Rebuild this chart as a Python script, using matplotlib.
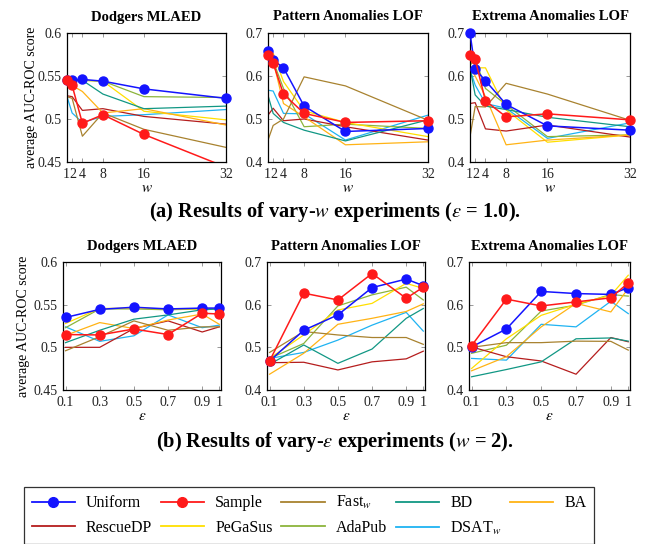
import matplotlib
matplotlib.use('Agg')
import matplotlib.pyplot as plt
from matplotlib.lines import Line2D
from matplotlib.ticker import FuncFormatter
from matplotlib.transforms import ScaledTranslation

plt.rcParams['font.family'] = ['Liberation Serif', 'DejaVu Serif']
plt.rcParams['mathtext.fontset'] = 'stix'

# ── data ──────────────────────────────────────────────────────────────────
W_VALUES = [1, 2, 4, 8, 16, 32]
EPS_VALUES = [0.1, 0.3, 0.5, 0.7, 0.9, 1.0]

METHODS = ['Uniform', 'Sample', 'Fast$_w$', 'BD', 'BA',
           'RescueDP', 'PeGaSus', 'AdaPub', 'DSAT$_w$']

dodgers_w = {
    'Uniform':  [0.545, 0.545, 0.546, 0.544, 0.535, 0.524],
    'Sample':   [0.545, 0.539, 0.495, 0.505, 0.482, 0.444],
    'Fast$_w$': [0.526, 0.524, 0.480, 0.507, 0.488, 0.467],
    'BD':       [0.545, 0.545, 0.545, 0.529, 0.512, 0.515],
    'BA':       [0.543, 0.539, 0.532, 0.507, 0.512, 0.493],
    'RescueDP': [0.527, 0.526, 0.510, 0.512, 0.503, 0.494],
    'PeGaSus':  [0.545, 0.545, 0.545, 0.544, 0.509, 0.499],
    'AdaPub':   [0.545, 0.545, 0.545, 0.544, 0.526, 0.525],
    'DSAT$_w$': [0.526, 0.507, 0.496, 0.503, 0.505, 0.511],
}
pattern_w = {
    'Uniform':  [0.658, 0.637, 0.619, 0.530, 0.471, 0.478],
    'Sample':   [0.650, 0.630, 0.558, 0.513, 0.492, 0.496],
    'Fast$_w$': [0.451, 0.485, 0.500, 0.598, 0.577, 0.497],
    'BD':       [0.555, 0.513, 0.492, 0.474, 0.449, 0.498],
    'BA':       [0.650, 0.635, 0.536, 0.505, 0.440, 0.447],
    'RescueDP': [0.509, 0.525, 0.496, 0.500, 0.482, 0.451],
    'PeGaSus':  [0.645, 0.653, 0.587, 0.519, 0.492, 0.459],
    'AdaPub':   [0.645, 0.635, 0.571, 0.482, 0.488, 0.478],
    'DSAT$_w$': [0.567, 0.565, 0.513, 0.512, 0.451, 0.509],
}
extrema_w = {
    'Uniform':  [0.700, 0.616, 0.589, 0.534, 0.484, 0.474],
    'Sample':   [0.650, 0.639, 0.542, 0.505, 0.512, 0.498],
    'Fast$_w$': [0.459, 0.529, 0.528, 0.583, 0.558, 0.497],
    'BD':       [0.620, 0.556, 0.530, 0.522, 0.504, 0.482],
    'BA':       [0.620, 0.600, 0.552, 0.440, 0.451, 0.463],
    'RescueDP': [0.536, 0.538, 0.477, 0.472, 0.486, 0.458],
    'PeGaSus':  [0.620, 0.619, 0.619, 0.521, 0.446, 0.463],
    'AdaPub':   [0.625, 0.640, 0.571, 0.533, 0.459, 0.463],
    'DSAT$_w$': [0.615, 0.579, 0.536, 0.525, 0.455, 0.491],
}
dodgers_eps = {
    'Uniform':  [0.535, 0.5445, 0.547, 0.545, 0.546, 0.546],
    'Sample':   [0.515, 0.5145, 0.5215, 0.515, 0.540, 0.539],
    'Fast$_w$': [0.496, 0.5125, 0.531, 0.520, 0.524, 0.524],
    'BD':       [0.5055, 0.520, 0.533, 0.538, 0.544, 0.545],
    'BA':       [0.514, 0.529, 0.522, 0.532, 0.539, 0.527],
    'RescueDP': [0.500, 0.500, 0.522, 0.531, 0.518, 0.524],
    'PeGaSus':  [0.528, 0.5455, 0.546, 0.545, 0.545, 0.545],
    'AdaPub':   [0.523, 0.545, 0.545, 0.544, 0.545, 0.545],
    'DSAT$_w$': [0.524, 0.507, 0.5135, 0.538, 0.523, 0.526],
}
pattern_eps = {
    'Uniform':  [0.468, 0.540, 0.576, 0.640, 0.660, 0.6445],
    'Sample':   [0.468, 0.627, 0.611, 0.673, 0.615, 0.641],
    'Fast$_w$': [0.488, 0.537, 0.529, 0.523, 0.523, 0.507],
    'BD':       [0.460, 0.5055, 0.4625, 0.496, 0.568, 0.591],
    'BA':       [0.437, 0.486, 0.554, 0.568, 0.584, 0.602],
    'RescueDP': [0.464, 0.465, 0.447, 0.466, 0.473, 0.491],
    'PeGaSus':  [0.474, 0.529, 0.5875, 0.603, 0.650, 0.638],
    'AdaPub':   [0.474, 0.509, 0.597, 0.623, 0.641, 0.611],
    'DSAT$_w$': [0.474, 0.488, 0.517, 0.552, 0.582, 0.538],
}
extrema_eps = {
    'Uniform':  [0.501, 0.543, 0.631, 0.626, 0.624, 0.640],
    'Sample':   [0.504, 0.613, 0.597, 0.6065, 0.616, 0.651],
    'Fast$_w$': [0.500, 0.511, 0.511, 0.5145, 0.514, 0.4935],
    'BD':       [0.431, 0.448, 0.466, 0.520, 0.522, 0.5145],
    'BA':       [0.445, 0.478, 0.548, 0.603, 0.583, 0.638],
    'RescueDP': [0.501, 0.478, 0.468, 0.437, 0.523, 0.513],
    'PeGaSus':  [0.4505, 0.520, 0.575, 0.601, 0.622, 0.669],
    'AdaPub':   [0.486, 0.505, 0.585, 0.599, 0.624, 0.620],
    'DSAT$_w$': [0.474, 0.470, 0.554, 0.548, 0.608, 0.579],
}

# ── styles ────────────────────────────────────────────────────────────────
COLORS = {
    'Uniform': '#1414ff', 'Sample': '#ff1a1a', 'Fast$_w$': '#a8822f',
    'BD': '#119784', 'BA': '#ffb315', 'RescueDP': '#b51d1d',
    'PeGaSus': '#ffdf00', 'AdaPub': '#8cb43c', 'DSAT$_w$': '#1fb3f2',
}
MARKED = ('Uniform', 'Sample')

W, H = 651, 544
fig = plt.figure(figsize=(W / 100, H / 100), dpi=100)


def rect(x0, x1, ytop, ybot):
    return [x0 / W, 1 - ybot / H, (x1 - x0) / W, (ybot - ytop) / H]


panels = [
    (rect(67, 226, 33, 162), 'Dodgers MLAED', W_VALUES, dodgers_w,
     (0.45, 0.6), [0.45, 0.5, 0.55, 0.6], (1, 32), -0.18, '$w$'),
    (rect(268, 428, 33, 162), 'Pattern Anomalies LOF', W_VALUES, pattern_w,
     (0.4, 0.7), [0.4, 0.5, 0.6, 0.7], (1, 32), None, '$w$'),
    (rect(470, 630, 33, 162), 'Extrema Anomalies LOF', W_VALUES, extrema_w,
     (0.4, 0.7), [0.4, 0.5, 0.6, 0.7], (1, 32), None, '$w$'),
    (rect(63, 221, 262, 390), 'Dodgers MLAED', EPS_VALUES, dodgers_eps,
     (0.45, 0.6), [0.45, 0.5, 0.55, 0.6], (0.085, 1.01), -0.21, r'$\epsilon$'),
    (rect(267, 425, 262, 390), 'Pattern Anomalies LOF', EPS_VALUES, pattern_eps,
     (0.4, 0.7), [0.4, 0.5, 0.6, 0.7], (0.085, 1.01), None, r'$\epsilon$'),
    (rect(469, 630, 262, 390), 'Extrema Anomalies LOF', EPS_VALUES, extrema_eps,
     (0.4, 0.7), [0.4, 0.5, 0.6, 0.7], (0.085, 1.01), None, r'$\epsilon$'),
]

fmt = FuncFormatter(lambda v, _: f'{v:g}')

for box, title, xs, data, ylim, yticks, xlim, ylab_x, xlab in panels:
    ax = fig.add_axes(box)
    for m in METHODS[::-1]:
        if m in MARKED:
            continue
        ax.plot(xs, data[m], color=COLORS[m], linewidth=0.9, zorder=2)
    for z, m in enumerate(MARKED):
        ax.plot(xs, data[m], color=COLORS[m], linewidth=1.1, zorder=4 + z)
        # markers may sit on the spines, but values off the scale stay hidden
        inside = [(x, y) for x, y in zip(xs, data[m]) if ylim[0] <= y <= ylim[1]]
        ax.plot([p[0] for p in inside], [p[1] for p in inside],
                linestyle='none', marker='o', markersize=6.5,
                color=COLORS[m], zorder=4 + z, clip_on=False)
    ax.set_xlim(*xlim)
    ax.set_ylim(*ylim)
    ax.set_xticks(xs)
    ax.set_yticks(yticks)
    ax.xaxis.set_major_formatter(fmt)
    ax.yaxis.set_major_formatter(fmt)
    ax.tick_params(direction='in', length=3, width=0.6, color='#888888',
                   top=True, right=True, labelsize=10, pad=4,
                   labelcolor='#222222')
    for s in ax.spines.values():
        s.set_linewidth(0.9)
    ax.set_title(title, fontsize=10.5, fontweight='bold', pad=9)
    ax.set_xlabel(xlab, fontsize=11, labelpad=1)
    if ylab_x is not None:
        ax.set_ylabel('average AUC-ROC score', fontsize=10)
        ax.yaxis.set_label_coords(ylab_x, 0.5)
    if xs is W_VALUES:
        # "1" and "2" sit only a few pixels apart: nudge them away a little
        lbls = ax.get_xticklabels()
        for lbl, dx in ((lbls[0], -1.2), (lbls[1], 1.2)):
            lbl.set_transform(lbl.get_transform()
                              + ScaledTranslation(dx / 100, 0, fig.dpi_scale_trans))

fig.text(0.515, 1 - 212 / H,
         r'(a) Results of vary-$w$ experiments ($\epsilon$ = 1.0).',
         ha='center', va='center', fontsize=14.7, fontweight='bold')
fig.text(0.515, 1 - 442 / H,
         r'(b) Results of vary-$\epsilon$ experiments ($w$ = 2).',
         ha='center', va='center', fontsize=14.7, fontweight='bold')

# ── legend (row-wise order, matplotlib fills column by column) ───────────
handles = {}
for m in METHODS:
    if m in MARKED:
        handles[m] = Line2D([], [], color=COLORS[m], linewidth=1.3,
                            marker='o', markersize=7)
    else:
        handles[m] = Line2D([], [], color=COLORS[m], linewidth=1.3)
ncol = 5
order = []
for c in range(ncol):
    for r in range(2):
        i = r * ncol + c
        if i < len(METHODS):
            order.append(METHODS[i])
leg = fig.legend([handles[m] for m in order], order, ncol=ncol,
                 loc='upper center', bbox_to_anchor=(0.4747, 1 - 479 / H),
                 fontsize=11.5, frameon=True, fancybox=False,
                 edgecolor='black', handlelength=2.7, columnspacing=0.55,
                 handletextpad=0.7, labelspacing=0.55, borderpad=0.45)
leg.get_frame().set_linewidth(0.9)

fig.savefig('out.png', dpi=100)
